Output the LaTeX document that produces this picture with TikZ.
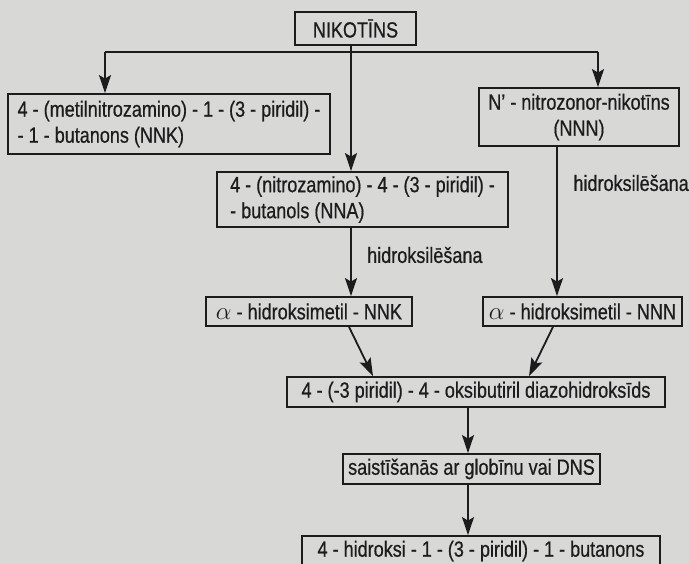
\documentclass[tikz,border=0pt]{standalone}
\usepackage{fontspec}
\setmainfont[FakeStretch=0.82,FakeBold=0.6]{Liberation Sans}
\usetikzlibrary{arrows.meta}
\definecolor{paper}{RGB}{216,216,214}
\definecolor{ink}{RGB}{28,28,28}
\newcommand{\bigalpha}{{\fontsize{24}{26}\selectfont$\alpha$}}
\begin{document}
\begin{tikzpicture}[x=1pt,y=-1pt,
  box/.style={draw=ink,line width=1.8pt,inner sep=0pt,text=ink,font=\fontsize{22}{26}\selectfont},
  conn/.style={draw=ink,line width=1.8pt},
  arr/.style={conn,-{Stealth[length=18pt,width=12pt,inset=3.5pt]}},
  lab/.style={text=ink,font=\fontsize{22}{24}\selectfont,inner sep=0pt}]
\fill[paper] (0,0) rectangle (689,564);
\useasboundingbox (0,0) rectangle (689,564);
\clip (0,0) rectangle (689,564);

\node[box,minimum width=121,minimum height=33] (nik) at (355.5,28.5) {NIKOTĪNS};
\node[box,minimum width=322,minimum height=60,align=left] (nnk) at (169,124) {4 - (metilnitrozamino) - 1 - (3 - piridil) -\\- 1 - butanons (NNK)};
\node[box,minimum width=200,minimum height=58,align=center] (nnn) at (579,117) {N' - nitrozonor-nikotīns\\(NNN)};
\node[box,minimum width=291,minimum height=55,align=left] (nna) at (362.5,199.5) {4 - (nitrozamino) - 4 - (3 - piridil) -\\- butanols (NNA)};
\node[box,minimum width=206,minimum height=29] (ank) at (309,311.5) {\bigalpha{} - hidroksimetil - NNK};
\node[box,minimum width=199,minimum height=29] (ann) at (582.5,311.5) {\bigalpha{} - hidroksimetil - NNN};
\node[box,minimum width=378,minimum height=30] (dia) at (476,392) {4 - (-3 piridil) - 4 - oksibutiril diazohidroksīds};
\node[box,minimum width=257,minimum height=30] (sai) at (471.5,469) {saistīšanās ar globīnu vai DNS};
\node[box,minimum width=358,minimum height=30] (hid) at (481,551) {4 - hidroksi - 1 - (3 - piridil) - 1 - butanons};
\node[lab,anchor=west] (l1) at (367,255) {hidroksilēšana};
\node[lab,anchor=east] (l2) at (689,183) {hidroksilēšana};

\coordinate (jl) at (105,52);
\coordinate (jc) at (351,52);
\coordinate (jr) at (598,52);
\draw[conn] (jl) -- (jr);
\draw[arr] (jl) -- (jl |- nnk.north);
\draw[arr] (jr) -- (jr |- nnn.north);
\draw[arr] (jc |- nik.south) -- (jc |- nna.north);
\draw[arr] (jc |- nna.south) -- (jc |- ank.north);
\coordinate (xr) at (557,0);
\draw[arr] (xr |- nnn.south) -- (xr |- ann.north);
\coordinate (a1) at (349,0);
\coordinate (a2) at (373,0);
\coordinate (b1) at (553,0);
\coordinate (b2) at (529,0);
\draw[arr] (a1 |- ank.south) -- (a2 |- dia.north);
\draw[arr] (b1 |- ann.south) -- (b2 |- dia.north);
\coordinate (xd) at (468,0);
\draw[arr] (xd |- dia.south) -- (xd |- sai.north);
\draw[arr] (xd |- sai.south) -- (xd |- hid.north);
\end{tikzpicture}
\end{document}
